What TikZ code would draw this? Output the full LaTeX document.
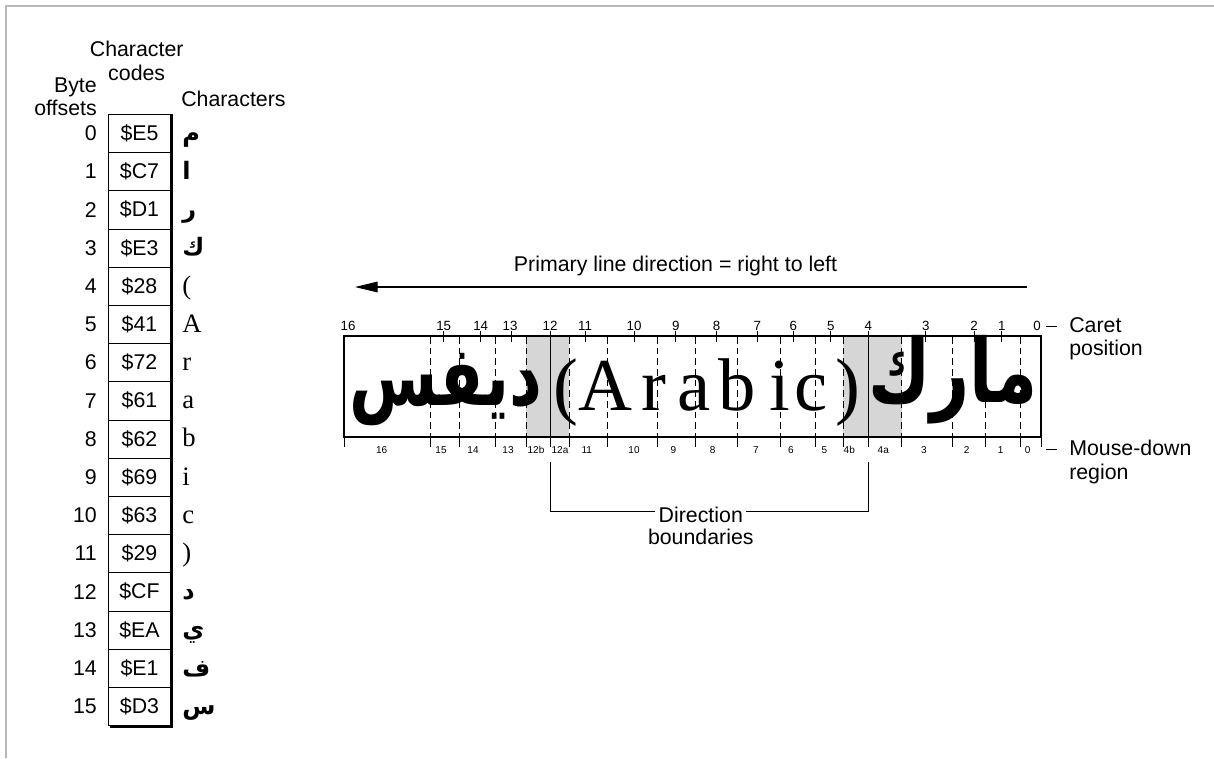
\documentclass[tikz,border=0pt]{standalone}
\usepackage{fontspec}
\setmainfont{Liberation Sans}
\newfontfamily\romanfont{Liberation Serif}
\newfontfamily\arabicfont[Script=Arabic]{DejaVu Sans}
\TeXXeTstate=1
\usetikzlibrary{arrows.meta}

\tikzset{
  lbl/.style={font=\fontsize{16}{17.5}\selectfont, inner sep=0pt},
  caretnum/.style={font=\fontsize{10}{12}\selectfont, inner sep=0pt, anchor=base},
  regionnum/.style={font=\fontsize{7.5}{9}\selectfont, inner sep=0pt, anchor=base},
  midline/.style={dash pattern=on 5pt off 3pt, line width=0.75pt},
  boundary/.style={fill=black!16, draw=none},
  archar/.style={font=\arabicfont\bfseries\fontsize{18}{18}\selectfont, inner sep=0pt, anchor=base west},
  latchar/.style={font=\romanfont\fontsize{20}{20}\selectfont, inner sep=0pt, anchor=base west},
}

\begin{document}
\begin{tikzpicture}[x=0.75pt,y=-0.75pt]
\useasboundingbox (0,0) rectangle (1214,758);
\draw[black!28, line width=1.5pt] (5.5,758) -- (5.5,5.5) -- (1214,5.5);

% storage table
\node[lbl, align=center] (codeshead) at (136.7,61) {Character\\codes};
\node[lbl, align=right, anchor=east] (offsethead) at (97,97) {Byte\\offsets};
\node[lbl, anchor=west] (charhead) at (181,99) {Characters};
\foreach \code [count=\i from 0] in {E5,C7,D1,E3,28,41,72,61,62,69,63,29,CF,EA,E1,D3} {
  \draw[line width=0.6pt] (108.3,114.3+38.2*\i) rectangle (170.7,152.5+38.2*\i);
  \node[lbl] (code\i) at (139.5,133.4+38.2*\i) {\$\code};
  \node[lbl, anchor=east] (off\i) at (97,133.4+38.2*\i) {\i};
}
\draw[line width=1.8pt] (171.5,114.3) -- (171.5,726.8) -- (109.5,726.8);
\foreach \ch [count=\i from 0] in {م,ا,ر,ك}
  \node[archar] (char\i) at (182,141.3+38.2*\i) {\beginR\ch\endR};
\foreach \ch [count=\i from 4] in {{(},A,r,a,b,i,c,{)}}
  \node[latchar] (char\i) at (182,141.3+38.2*\i) {\ch};
\foreach \ch [count=\i from 12] in {د,ي,ف,س}
  \node[archar] (char\i) at (182,141.3+38.2*\i) {\beginR\ch\endR};

% line direction
\coordinate (dirR) at (1027,287);
\coordinate (dirL) at (355,287);
\draw[line width=0.8pt, -{Triangle[length=17pt,width=8pt]}] (dirR) -- (dirL);
\node[lbl] (primlbl) at (675.5,266) {Primary line direction = right to left};

% text box
\fill[boundary] (526,336) rectangle (569.3,437);
\fill[boundary] (843.3,336) rectangle (901.7,437);
\foreach \x in {430.7,459.7,495.3,526,569.3,607.7,657.7,695.3,737.7,780,815.7,843.3,901.7,952.3,985.7,1020.3}
  \draw[midline] (\x,337) -- (\x,437);
\foreach \x in {344,430.7,459.7,495.3,526,569.3,607.7,657.7,695.3,737.7,780,815.7,843.3,901.7,952.3,985.7,1020.3,1041}
  \draw[line width=0.75pt] (\x,437) -- (\x,447);
\foreach \x in {443.7,480.7,511,585,634,675.7,716.7,757.3,793.3,830.7,925.7,974,1001.7}
  \draw[line width=0.75pt] (\x,331) -- (\x,342);
\draw[line width=0.75pt] (550,331) -- (550,447);
\draw[line width=0.75pt] (868.3,331) -- (868.3,447);
\draw[line width=1pt] (344,336) rectangle (1041,437);

\node[anchor=base, inner sep=0pt, font=\arabicfont\bfseries\fontsize{51}{51}\selectfont] (arword1) at (953,402) {\scalebox{1}[1.3]{\beginR مارك\endR}};
\node[anchor=base, inner sep=0pt, font=\arabicfont\bfseries\fontsize{48}{48}\selectfont] (arword2) at (446,405) {\scalebox{1}[1.3]{\beginR ديفس\endR}};
\foreach \ch/\x [count=\i] in {{(}/566,A/605,r/654,a/694,b/737,i/780,c/811,{)}/848}
  \node[anchor=base, inner sep=0pt, font=\romanfont\fontsize{56}{56}\selectfont] (lat\i) at (\x,410) {\ch};

% caret positions and mouse-down regions
\foreach \n/\x in {16/348,15/443.7,14/480.7,13/510,12/550,11/585,10/634,9/675.7,8/716.7,7/757.3,6/793.3,5/830.7,4/868.3,3/925.7,2/974,1/1001.7,0/1037}
  \node[caretnum] (caret\n) at (\x,330) {\n};
\foreach \n/\x in {16/381.7,15/441,14/473,13/508,12b/536,12a/560,11/586.7,10/634,9/673.3,8/712.7,7/756,6/791,5/824.3,4b/849.3,4a/883.3,3/924,2/966.7,1/1000.7,0/1027.7}
  \node[regionnum] (region\n) at (\x,453) {\n};

\node[lbl, align=left, anchor=west] (caretlbl) at (1069,339) {Caret\\position};
\node[lbl, align=left, anchor=west] (mouselbl) at (1069,462) {Mouse-down\\region};
\coordinate (caretmark) at (1046,326);
\coordinate (mousemark) at (1046,449);
\draw[line width=0.75pt] (caretmark) -- ++(11,0);
\draw[line width=0.75pt] (mousemark) -- ++(11,0);

% direction boundaries
\node[lbl, inner xsep=2.5pt] (dirlbl) at (700.8,515) {Direction};
\node[lbl] (dirlbl2) at (700.8,537) {boundaries};
\coordinate (bound12) at (550,462);
\coordinate (bound4) at (868.3,462);
\draw[line width=0.75pt] (bound12) |- ([yshift=3pt]dirlbl.west);
\draw[line width=0.75pt] (bound4) |- ([yshift=3pt]dirlbl.east);
\end{tikzpicture}
\end{document}
